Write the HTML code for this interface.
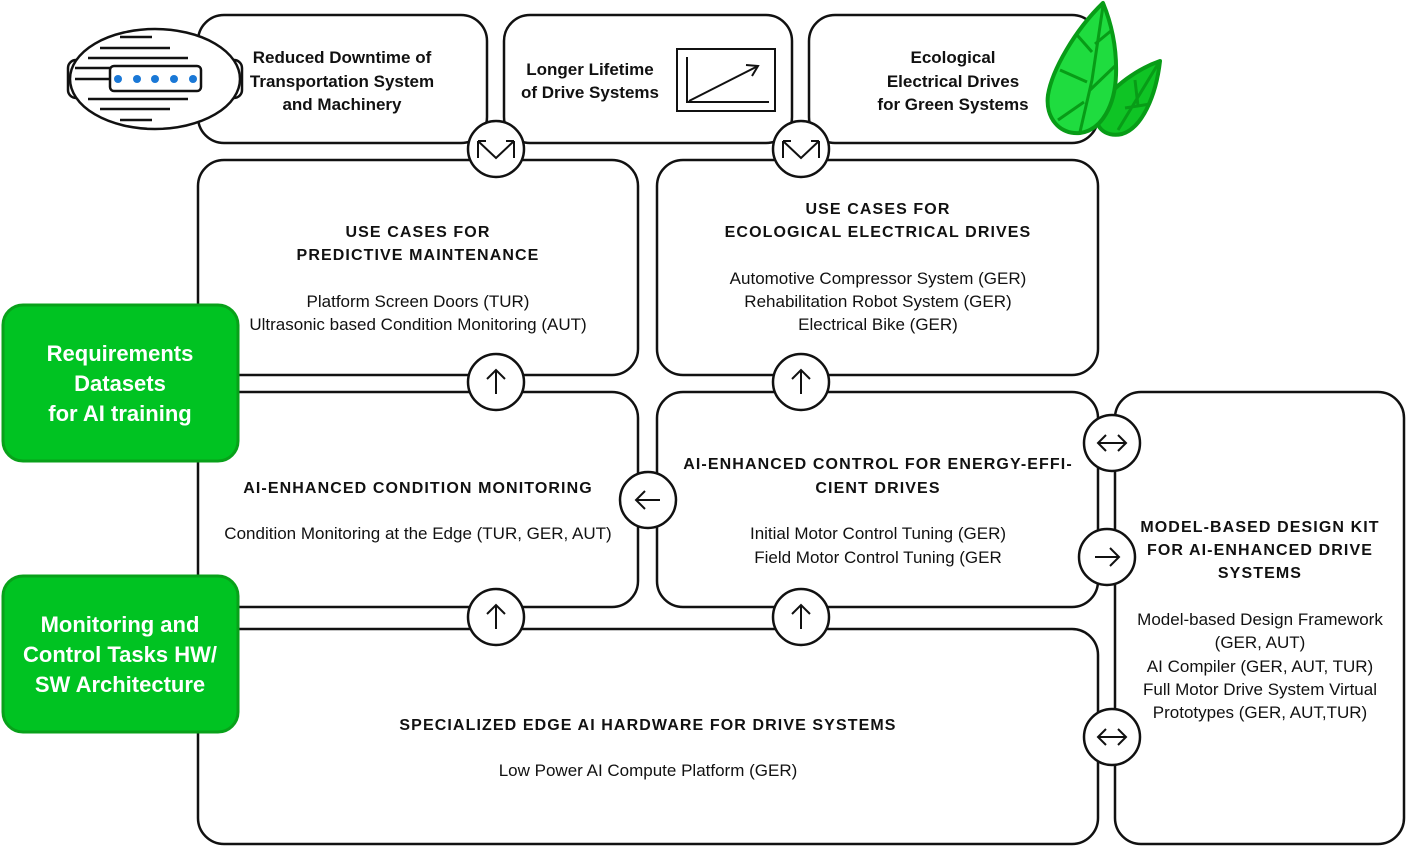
<!DOCTYPE html>
<html><head><meta charset="utf-8"><style>
html,body{margin:0;padding:0;background:#fff;}
svg{display:block;}
text{font-family:"Liberation Sans",sans-serif;fill:#111;text-anchor:middle;}
.t{font-weight:bold;font-size:17px;}
.h{font-weight:bold;font-size:16px;letter-spacing:1.1px;}
.b{font-size:17px;}
.g{font-weight:bold;font-size:22px;fill:#fff;}
</style></head><body>
<svg width="1406" height="846" viewBox="0 0 1406 846" xmlns="http://www.w3.org/2000/svg">
<g fill="none" stroke="#111" stroke-width="2.5">
<rect x="198" y="15" width="289" height="128" rx="26"/>
<rect x="504" y="15" width="288" height="128" rx="26"/>
<rect x="809" y="15" width="289" height="128" rx="26"/>
<rect x="198" y="160" width="440" height="215" rx="26"/>
<rect x="657" y="160" width="441" height="215" rx="26"/>
<rect x="198" y="392" width="440" height="215" rx="26"/>
<rect x="657" y="392" width="441" height="215" rx="26"/>
<rect x="198" y="629" width="900" height="215" rx="26"/>
<rect x="1115" y="392" width="289" height="452" rx="26"/>
<rect x="677" y="49" width="98" height="62" stroke-width="2"/>
<polyline points="687,57 687,102 769,102" stroke-width="2"/>
<line x1="689" y1="101" x2="758" y2="66" stroke-width="2"/>
<polyline points="746,65 758,66 752,76" stroke-width="2"/>
</g>
<!-- robot -->
<g stroke="#111" stroke-width="2.5" fill="#fff">
<rect x="68" y="60" width="22" height="38" rx="8"/>
<rect x="220" y="60" width="22" height="38" rx="8"/>
<ellipse cx="155" cy="79" rx="85" ry="50"/>
<line x1="120" y1="37" x2="152" y2="37" fill="none"/>
<line x1="100" y1="48" x2="170" y2="48"/>
<line x1="88" y1="58" x2="188" y2="58"/>
<line x1="75" y1="68" x2="110" y2="68"/>
<line x1="75" y1="79" x2="110" y2="79"/>
<line x1="88" y1="99" x2="188" y2="99"/>
<line x1="100" y1="109" x2="170" y2="109"/>
<line x1="120" y1="120" x2="152" y2="120"/>
<rect x="110" y="66" width="91" height="25" rx="4"/>
</g>
<g fill="#1a78d6">
<circle cx="118" cy="79" r="4"/><circle cx="137" cy="79" r="4"/><circle cx="155" cy="79" r="4"/><circle cx="174" cy="79" r="4"/><circle cx="193" cy="79" r="4"/>
</g>
<!-- leaves -->
<g stroke="#089c17" stroke-width="4" stroke-linejoin="round">
<path d="M1160,61 C1140,68 1112,85 1098,110 C1092,126 1105,138 1122,134 C1142,128 1156,96 1160,61 Z" fill="#0fc425"/>
<path d="M1103,3 C1075,30 1052,70 1048,95 C1045,118 1060,135 1080,133 C1102,130 1115,105 1116,75 C1117,45 1110,20 1103,3 Z" fill="#1fdc3f"/>
</g>
<g stroke="#089c17" stroke-width="3" fill="none">
<path d="M1103,6 L1092,80 L1080,132"/>
<path d="M1077,35 L1092,52 M1112,30 L1095,44 M1060,70 L1087,82 M1115,66 L1090,90 M1058,120 L1084,102 M1158,64 L1118,130 M1135,80 L1138,106 M1125,108 L1150,104"/>
</g>
<!-- green boxes -->
<g fill="#00c322" stroke="#08a11a" stroke-width="3">
<rect x="3" y="305" width="235" height="156" rx="20"/>
<rect x="3" y="576" width="235" height="156" rx="20"/>
</g>
<text class="g" x="120" y="361">Requirements</text>
<text class="g" x="120" y="391">Datasets</text>
<text class="g" x="120" y="421">for AI training</text>
<text class="g" x="120" y="632">Monitoring and</text>
<text class="g" x="120" y="662">Control Tasks HW/</text>
<text class="g" x="120" y="692">SW Architecture</text>
<!-- circles -->
<g fill="#fff" stroke="#111" stroke-width="2.5">
<circle cx="496" cy="149" r="28"/><circle cx="801" cy="149" r="28"/>
<circle cx="496" cy="382" r="28"/><circle cx="801" cy="382" r="28"/>
<circle cx="648" cy="500" r="28"/>
<circle cx="496" cy="617" r="28"/><circle cx="801" cy="617" r="28"/>
<circle cx="1112" cy="443" r="28"/><circle cx="1107" cy="557" r="28"/><circle cx="1112" cy="737" r="28"/>
</g>
<g fill="none" stroke="#111" stroke-width="2">
<path d="M478,158 L478,141 M478,141 L496,158 L514,141 M514,141 L514,158 M478,141 L486,141 M506,141 L514,141"/>
<path d="M783,158 L783,141 M783,141 L801,158 L819,141 M819,141 L819,158 M783,141 L791,141 M811,141 L819,141"/>
<path d="M496,394 L496,370 M487,379 L496,370 L505,379"/>
<path d="M801,394 L801,370 M792,379 L801,370 L810,379"/>
<path d="M496,629 L496,605 M487,614 L496,605 L505,614"/>
<path d="M801,629 L801,605 M792,614 L801,605 L810,614"/>
<path d="M660,500 L636,500 M645,491 L636,500 L645,509"/>
<path d="M1095,557 L1119,557 M1110,548 L1119,557 L1110,566"/>
<path d="M1098,443 L1126,443 M1106,435 L1098,443 L1106,451 M1118,435 L1126,443 L1118,451"/>
<path d="M1098,737 L1126,737 M1106,729 L1098,737 L1106,745 M1118,729 L1126,737 L1118,745"/>
</g>
<text class="t" x="342" y="63">Reduced Downtime of</text>
<text class="t" x="342" y="87">Transportation System</text>
<text class="t" x="342" y="110">and Machinery</text>
<text class="t" x="590" y="75">Longer Lifetime</text>
<text class="t" x="590" y="98">of Drive Systems</text>
<text class="t" x="953" y="63">Ecological</text>
<text class="t" x="953" y="87">Electrical Drives</text>
<text class="t" x="953" y="110">for Green Systems</text>
<text class="h" x="418" y="237">USE CASES FOR</text>
<text class="h" x="418" y="260">PREDICTIVE MAINTENANCE</text>
<text class="b" x="418" y="307">Platform Screen Doors (TUR)</text>
<text class="b" x="418" y="330">Ultrasonic based Condition Monitoring (AUT)</text>
<text class="h" x="878" y="214">USE CASES FOR</text>
<text class="h" x="878" y="237">ECOLOGICAL ELECTRICAL DRIVES</text>
<text class="b" x="878" y="284">Automotive Compressor System (GER)</text>
<text class="b" x="878" y="307">Rehabilitation Robot System (GER)</text>
<text class="b" x="878" y="330">Electrical Bike (GER)</text>
<text class="h" x="418" y="493">AI-ENHANCED CONDITION MONITORING</text>
<text class="b" x="418" y="539">Condition Monitoring at the Edge (TUR, GER, AUT)</text>
<text class="h" x="878" y="469">AI-ENHANCED CONTROL FOR ENERGY-EFFI-</text>
<text class="h" x="878" y="493">CIENT DRIVES</text>
<text class="b" x="878" y="539">Initial Motor Control Tuning (GER)</text>
<text class="b" x="878" y="563">Field Motor Control Tuning (GER</text>
<text class="h" x="648" y="730">SPECIALIZED EDGE AI HARDWARE FOR DRIVE SYSTEMS</text>
<text class="b" x="648" y="776">Low Power AI Compute Platform (GER)</text>
<text class="h" x="1260" y="532">MODEL-BASED DESIGN KIT</text>
<text class="h" x="1260" y="555">FOR AI-ENHANCED DRIVE</text>
<text class="h" x="1260" y="578">SYSTEMS</text>
<text class="b" x="1260" y="625">Model-based Design Framework</text>
<text class="b" x="1260" y="648">(GER, AUT)</text>
<text class="b" x="1260" y="672">AI Compiler (GER, AUT, TUR)</text>
<text class="b" x="1260" y="695">Full Motor Drive System Virtual</text>
<text class="b" x="1260" y="718">Prototypes (GER, AUT,TUR)</text>
</svg>
</body></html>
